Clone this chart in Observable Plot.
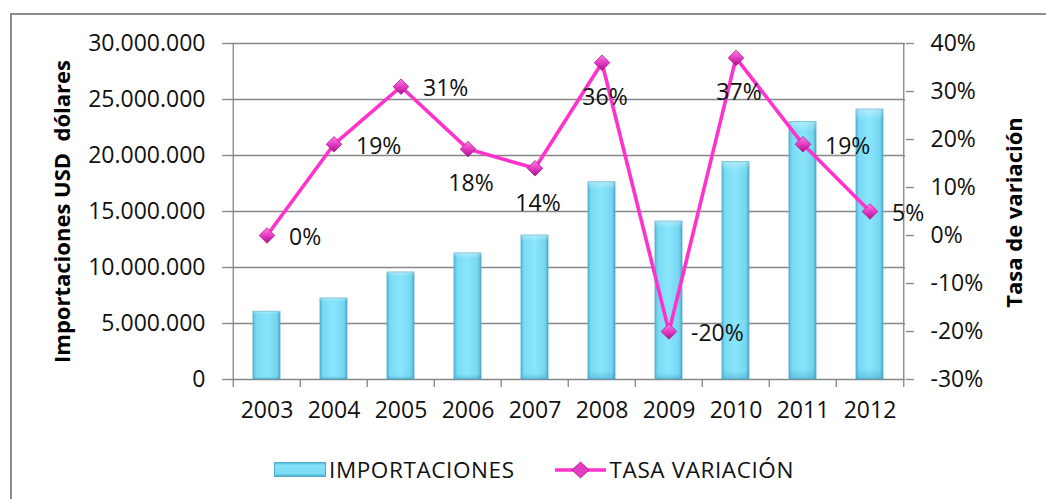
<!DOCTYPE html>
<html>
<head>
<meta charset="utf-8">
<script src="https://cdn.jsdelivr.net/npm/d3@7"></script>
<script src="https://cdn.jsdelivr.net/npm/@observablehq/plot@0.6"></script>
<style>
  html, body { margin: 0; padding: 0; background: #fff; overflow: hidden; }
  #wrap { position: relative; width: 1046px; height: 499px; overflow: hidden; font-family: "Open Sans", sans-serif; }
  #frame { position: absolute; left: 10px; top: 13px; width: 1100px; height: 600px; border: 2px solid #8c8c8c; box-sizing: border-box; }
  #chart { position: absolute; left: 0; top: 0; }
  #legend { position: absolute; left: 274px; top: 454px; display: flex; align-items: center; font-size: 22.5px; letter-spacing: 0.6px; color: #111; white-space: nowrap; }
  #legend .item { display: flex; align-items: center; }
  #legend svg { display: block; }
</style>
</head>
<body>
<div id="wrap">
  <div id="frame"></div>
  <div id="chart"></div>
  <div id="legend"></div>
</div>
<script>
// ---- data ----
const years = ["2003","2004","2005","2006","2007","2008","2009","2010","2011","2012"];
const imports = [6050000, 7230000, 9550000, 11250000, 12850000, 17600000, 14100000, 19400000, 23000000, 24100000];
const rates = [0, 19, 31, 18, 14, 36, -20, 37, 19, 5];
const leftTicks = [0, 5000000, 10000000, 15000000, 20000000, 25000000, 30000000];
const rateTicks = [-30, -20, -10, 0, 10, 20, 30, 40];
const seriesNames = ["IMPORTACIONES", "TASA VARIACIÓN"];
const leftTitle = "Importaciones USD  dólares";
const rightTitle = "Tasa de variación";

// ---- layout ----
const W = 1046, H = 440;
const mL = 230, mR = 141, mT = 43, mB = 61;
const step = (W - mL - mR) / years.length;
const rateMin = -30, rateMax = 40, impMax = 30000000;
const toY = r => (r - rateMin) / (rateMax - rateMin) * impMax;
const fromY = v => Math.round(v / impMax * (rateMax - rateMin) + rateMin);

const es = d3.formatLocale({decimal: ",", thousands: ".", grouping: [3], currency: ["", ""]});
const fmtNum = es.format(",");

const barData = years.map((y, i) => ({year: y, value: imports[i]}));
const lineData = years.map((y, i) => ({year: y, rate: rates[i], yv: toY(rates[i])}));
const belowYears = new Set(["2006", "2007", "2008", "2010"]);
const gray = "#868686";
const font = "Open Sans";
const fs = 23;

const plot = Plot.plot({
  width: W, height: H,
  marginLeft: mL, marginRight: mR, marginTop: mT, marginBottom: mB,
  style: {fontFamily: font, fontSize: fs + "px", color: "#000", background: "transparent", overflow: "visible"},
  x: {domain: years, paddingInner: 0.6, paddingOuter: 0.3, axis: null},
  y: {domain: [0, impMax], axis: null},
  marks: [
    Plot.gridY(leftTicks, {stroke: gray, strokeOpacity: 1, strokeWidth: 1.3}),
    Plot.axisY(leftTicks, {anchor: "left", tickSize: 8, tickPadding: 17, stroke: gray, strokeWidth: 1.3, tickFormat: fmtNum, label: null, fontSize: fs, fill: "#111"}),
    Plot.axisY(rateTicks.map(toY), {anchor: "right", tickSize: 8, tickPadding: 17, stroke: gray, strokeWidth: 1.3, tickFormat: v => fromY(v) + "%", label: null, textAnchor: "start", fontSize: fs, fill: "#111"}),
    Plot.axisX(years, {anchor: "bottom", tickSize: 0, tickPadding: 22, label: null, fontSize: fs, fill: "#111"}),
    // category boundary ticks on the x axis
    Plot.ruleX(years, {x: d => d, dx: -step / 2, y1: 0, y2: 0, insetBottom: -8, stroke: gray, strokeWidth: 1.3}),
    Plot.ruleX(years.slice(-1), {x: d => d, dx: step / 2, y1: 0, y2: 0, insetBottom: -8, stroke: gray, strokeWidth: 1.3}),
    // left & right axis lines
    Plot.ruleX(years.slice(0, 1), {x: d => d, dx: -step / 2, y1: 0, y2: impMax, stroke: gray, strokeWidth: 1.3}),
    Plot.ruleX(years.slice(-1), {x: d => d, dx: step / 2, y1: 0, y2: impMax, stroke: gray, strokeWidth: 1.3}),
    // bars
    Plot.barY(barData, {x: "year", y: "value", fill: "url(#barGrad)", stroke: "#4ea9c6", strokeWidth: 0.8}),
    Plot.barY(barData, {x: "year", y: "value", fill: "url(#barShade)"}),
    // line
    Plot.line(lineData, {x: "year", y: "yv", stroke: "#ff33cc", strokeWidth: 3.6, curve: "linear"}),
    Plot.dot(lineData, {x: "year", y: "yv", symbol: "diamond2", r: 7, fill: "url(#dotGrad)", stroke: "#b0168e", strokeWidth: 0.8}),
    // data labels
    Plot.text(lineData.filter(d => !belowYears.has(d.year)), {x: "year", y: "yv", text: d => d.rate + "%", textAnchor: "start", dx: 22, dy: 2, fontSize: fs, fill: "#111"}),
    Plot.text(lineData.filter(d => belowYears.has(d.year)), {x: "year", y: "yv", text: d => d.rate + "%", textAnchor: "middle", dx: 3, dy: 35, fontSize: fs, fill: "#111"}),
    // axis titles
    Plot.text([leftTitle], {frameAnchor: "left", textAnchor: "middle", dx: -168, dy: 0, rotate: -90, fontSize: 22, fontWeight: "bold", fill: "#000"}),
    Plot.text([rightTitle], {frameAnchor: "right", textAnchor: "middle", dx: 109, dy: 1, rotate: -90, fontSize: 22, fontWeight: "bold", fill: "#000"})
  ]
});

const defs = d3.select(plot).insert("defs", ":first-child");
const bg = defs.append("linearGradient").attr("id", "barGrad").attr("x1", 0).attr("x2", 1).attr("y1", 0).attr("y2", 0);
[["0%", "#55bcdb"], ["12%", "#7adbf5"], ["50%", "#8ae5fb"], ["88%", "#76d6f0"], ["100%", "#4eadcb"]].forEach(([o, c]) => bg.append("stop").attr("offset", o).attr("stop-color", c));
const bs = defs.append("linearGradient").attr("id", "barShade").attr("x1", 0).attr("x2", 0).attr("y1", 0).attr("y2", 1);
[["0%", "#ffffff", 0.35], ["4%", "#ffffff", 0.0], ["96%", "#2a8fb0", 0.0], ["100%", "#2a8fb0", 0.35]].forEach(([o, c, a]) => bs.append("stop").attr("offset", o).attr("stop-color", c).attr("stop-opacity", a));
const dg = defs.append("linearGradient").attr("id", "dotGrad").attr("x1", 0).attr("x2", 0).attr("y1", 0).attr("y2", 1);
[["0%", "#ff7fe6"], ["50%", "#e43cc4"], ["100%", "#a8128a"]].forEach(([o, c]) => dg.append("stop").attr("offset", o).attr("stop-color", c));

document.getElementById("chart").appendChild(plot);

// ---- legend ----
const legend = d3.select("#legend");
const it1 = legend.append("div").attr("class", "item");
const s1 = it1.append("svg").attr("width", 52).attr("height", 15);
const lg = s1.append("defs").append("linearGradient").attr("id", "legGrad").attr("x1", 0).attr("x2", 0).attr("y1", 0).attr("y2", 1);
[["0%", "#4fb6d6"], ["20%", "#86e2fa"], ["80%", "#7ad9f4"], ["100%", "#4aa9c8"]].forEach(([o, c]) => lg.append("stop").attr("offset", o).attr("stop-color", c));
s1.append("rect").attr("x", 0.5).attr("y", 0.5).attr("width", 51).attr("height", 14).attr("fill", "url(#legGrad)").attr("stroke", "#4ea9c6");
it1.append("span").style("margin-left", "3px").text(seriesNames[0]);
const it2 = legend.append("div").attr("class", "item").style("margin-left", "40px");
const s2 = it2.append("svg").attr("width", 51).attr("height", 20);
s2.append("line").attr("x1", 0).attr("x2", 51).attr("y1", 10).attr("y2", 10).attr("stroke", "#ff33cc").attr("stroke-width", 3.6);
s2.append("path").attr("d", "M25.5,2 L34,10 L25.5,18 L17,10 Z").attr("fill", "#e43cc4").attr("stroke", "#b0168e").attr("stroke-width", 0.8);
it2.append("span").style("margin-left", "4px").text(seriesNames[1]);
</script>
</body>
</html>
